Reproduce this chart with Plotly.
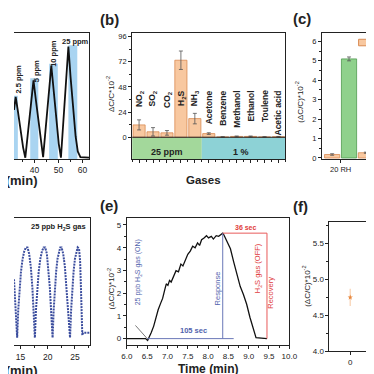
import plotly.graph_objects as go

W = H = 374
FONT = "Liberation Sans, Arial, sans-serif"

# ---------------- data ----------------
# (a) response vs time (arbitrary units, y axis cropped)
a_time = [31.5, 32.2, 33.1, 34.2, 35.3, 36.2, 39.6, 40.7, 41.9, 43.0, 43.6,
          47.0, 48.0, 49.0, 50.1, 51.0, 54.1, 55.0, 56.1, 57.1, 58.0, 59.1, 62.7]
a_resp = [38.8, 49.2, 38, 22, 9, 1, 62.2, 45, 25, 10, 1.5,
          74, 55, 32, 12, 1, 89, 65, 38, 18, 6, 1.5, 1]
a_gas_on = [31.5, 38.25, 46.1, 54.1]
a_gas_off = [33.1, 41.6, 49.7, 57.8]
a_gas_top = [50, 64, 75.3, 90]
a_conc = ["2.5 ppm", "5 ppm", "10 ppm", "25 ppm"]

# (b) selectivity
gases = ["NO<sub>2</sub>", "SO<sub>2</sub>", "CO<sub>2</sub>", "H<sub>2</sub>S", "NH<sub>3</sub>",
         "Acetone", "Benzene", "Methanol", "Ethanol", "Toulene", "Acetic acid"]
b_resp = [11.8, 5.2, 4.2, 73.5, 17.8, 3.5, 0.3, 0.8, 0.8, 0.3, 0.5]
b_err = [4.8, 4.0, 2.2, 8.8, 5.0, 0.8, 0.2, 0.4, 0.4, 0.2, 0.3]
b_groups = ["25 ppm", "1 %"]

# (c) humidity
rh = ["20 RH", "40 RH"]
c_orange = [0.18, 0.27]
c_orange_err = [0.04, 0.03]
c_green = [5.1, None]
c_green_err = [0.1, 0]

# (d) 25 ppb cycles (arbitrary units)
d_time = [13.82, 14.0, 14.2, 14.4, 14.6, 14.8, 15.1, 15.4, 15.7, 16.0, 16.3, 16.6, 16.9, 17.2, 17.45,
          17.65, 17.85, 18.05, 18.35, 18.65, 18.95, 19.25, 19.55, 19.85, 20.1, 20.4, 20.65,
          20.9, 21.1, 21.3, 21.55, 21.8, 22.05, 22.3, 22.55, 22.85, 23.15, 23.45, 23.8,
          24.1, 24.3, 24.5, 24.75, 25.0, 25.25, 25.5, 25.75, 25.95, 26.1, 26.25, 26.35, 26.5, 27.77]
d_resp = [52, 36, 20, 6, 28, 44, 58, 68, 74, 77, 77, 72, 62, 45, 25,
          6, 28, 44, 58, 68, 74, 77, 77, 72, 62, 45, 25,
          6, 28, 44, 58, 68, 74, 77, 77, 72, 62, 45, 25,
          6, 28, 44, 58, 68, 74, 77, 76, 66, 45, 20, 8, 10, 10]

# (e) single response / recovery
e_time = [6.0, 6.46, 6.51, 6.55, 6.6, 6.66, 6.71, 6.77, 6.83, 6.88, 6.93, 6.97, 7.01, 7.05, 7.09,
          7.15, 7.21, 7.27, 7.33, 7.38, 7.45, 7.50, 7.56, 7.62, 7.68, 7.74, 7.79, 7.84, 7.9,
          7.96, 8.01, 8.08, 8.13, 8.2, 8.26, 8.32, 8.36, 8.39, 8.47, 8.55, 8.63, 8.71, 8.79,
          8.87, 8.95, 9.03, 9.10, 9.18, 9.45]
e_resp = [0.0, 0.0, -0.08, 0.05, 0.27, 0.55, 0.91, 1.27, 1.55, 1.77, 2.13, 2.41, 2.34, 2.56, 2.49,
          2.77, 2.99, 2.94, 3.28, 3.2, 3.49, 3.71, 3.85, 4.07, 4.0, 4.21, 4.1, 4.35, 4.43,
          4.53, 4.43, 4.5, 4.38, 4.53, 4.5, 4.61, 4.64, 4.56, 4.24, 3.95, 3.38, 2.87, 2.30,
          1.94, 1.51, 0.94, 0.50, 0.04, 0.0]
e_gas_on_time = 6.5
e_peak_time = 8.36
e_peak_val = 4.64
e_recovery_end = 9.45
e_base_line_end = 8.63

# (f)
f_x = [0]
f_y = [4.75]
f_err = [0.12]

# ---------------- helpers ----------------
def X(p):
    return p / W

def Y(p):
    return 1 - p / H

ORANGE_FILL = "#f8c8a0"
ORANGE_EDGE = "#d98a52"
GREEN_FILL = "#8fd18c"
GREEN_EDGE = "#4f9a4f"
BLUE_TXT = "#5263ad"
RED_TXT = "#e03c3c"
AX = "#222222"

fig = go.Figure()

# ---- (a)
fig.add_trace(go.Scatter(x=a_time, y=a_resp, mode="lines", line=dict(color="#111111", width=1.8),
                         xaxis="x", yaxis="y", showlegend=False))
# ---- (b)
fig.add_trace(go.Bar(x=list(range(len(gases))), y=b_resp, width=0.87,
                     marker=dict(color=ORANGE_FILL, line=dict(color=ORANGE_EDGE, width=0.8)),
                     error_y=dict(type="data", array=b_err, color="#555555", thickness=0.8, width=2),
                     xaxis="x2", yaxis="y2", showlegend=False))
# ---- (c)
fig.add_trace(go.Bar(x=[0, 1], y=c_orange,
                     marker=dict(color=ORANGE_FILL, line=dict(color=ORANGE_EDGE, width=0.8)),
                     error_y=dict(type="data", array=c_orange_err, color="#555555", thickness=0.8, width=2),
                     xaxis="x3", yaxis="y3", showlegend=False))
fig.add_trace(go.Bar(x=[0, 1], y=c_green,
                     marker=dict(color=GREEN_FILL, line=dict(color=GREEN_EDGE, width=0.8)),
                     error_y=dict(type="data", array=c_green_err, color="#555555", thickness=0.8, width=2),
                     xaxis="x3", yaxis="y3", showlegend=False))
# ---- (d)
fig.add_trace(go.Scatter(x=d_time, y=d_resp, mode="lines",
                         line=dict(color="#3b4d9e", width=2, dash="2px,1px"),
                         xaxis="x4", yaxis="y4", showlegend=False))
# ---- (e)
fig.add_trace(go.Scatter(x=e_time, y=e_resp, mode="lines", line=dict(color="#111111", width=1.3),
                         xaxis="x5", yaxis="y5", showlegend=False))
# ---- (f)
fig.add_trace(go.Scatter(x=f_x, y=f_y, mode="markers",
                         marker=dict(color="#e8873c", size=4, symbol="star"),
                         error_y=dict(type="data", array=f_err, color="#f9d9bf", thickness=1.5, width=0),
                         xaxis="x6", yaxis="y6", showlegend=False))

tickfont = dict(family=FONT, size=8, color=AX)
base = dict(showline=True, linecolor=AX, linewidth=1, ticks="outside", ticklen=3, tickwidth=1,
            tickcolor=AX, tickfont=tickfont, showgrid=False, zeroline=False, fixedrange=True)

layout = dict(
    width=W, height=H, margin=dict(l=0, r=0, t=0, b=0), autosize=False,
    paper_bgcolor="white", plot_bgcolor="white", barmode="group", bargap=0.0, bargroupgap=0.1,
    font=dict(family=FONT, color=AX),
)

# (a)
layout["xaxis"] = dict(base, domain=[0, X(78)], range=[31.5, 62.7], tickvals=[40, 50, 60], mirror=True,
                       anchor="y", tickfont=dict(family=FONT, size=8.5, color=AX),
                       minor=dict(ticks="outside", ticklen=2, tickvals=[35, 45, 55]))
layout["yaxis"] = dict(base, domain=[Y(153), Y(25)], range=[0, 100], side="right", ticks="",
                       showticklabels=False, mirror=False, anchor="x")
# (b)
layout["xaxis2"] = dict(base, domain=[X(122.7), X(282)], range=[-0.5, 10.5], tickvals=list(range(11)),
                        showticklabels=False, mirror=True, anchor="y2",
                        minor=dict(ticks="outside", ticklen=2, tickvals=[i + 0.5 for i in range(-1, 11)]))
layout["yaxis2"] = dict(base, domain=[Y(153), Y(25)], range=[-20.7, 99.8], tickvals=[0, 24, 48, 72, 96],
                        tickfont=dict(family=FONT, size=7.5, color=AX), mirror=True, anchor="x2",
                        minor=dict(ticks="outside", ticklen=2, tickvals=[12, 36, 60, 84]))
# (c)
layout["xaxis3"] = dict(base, domain=[X(320), 1], range=[-0.55, 0.99], tickvals=[0, 1], ticktext=rh,
                        mirror=True, anchor="y3", tickfont=dict(family=FONT, size=7.5, color=AX))
layout["yaxis3"] = dict(base, domain=[Y(153), Y(25)], range=[-0.05, 6.45], dtick=1, mirror=False,
                        anchor="x3", tickfont=dict(family=FONT, size=7.5, color=AX),
                        minor=dict(ticks="outside", ticklen=2, dtick=0.5))
# (d)
layout["xaxis4"] = dict(base, domain=[0, X(79)], range=[13.82, 27.77], tickvals=[15, 20, 25], mirror=True,
                        anchor="y4", tickfont=dict(family=FONT, size=8.5, color=AX),
                        minor=dict(ticks="outside", ticklen=2, dtick=2.5))
layout["yaxis4"] = dict(base, domain=[Y(342), Y(213)], range=[0, 100], side="right", ticks="",
                        showticklabels=False, mirror=False, anchor="x4")
# (e)
layout["xaxis5"] = dict(base, domain=[X(117.3), X(286)], range=[6, 10], dtick=0.5, tickformat=".1f",
                        mirror=True, anchor="y5", minor=dict(ticks="outside", ticklen=2, dtick=0.25))
layout["yaxis5"] = dict(base, domain=[Y(342), Y(213)], range=[-0.3, 5.3], dtick=1, mirror=True,
                        anchor="x5", minor=dict(ticks="outside", ticklen=2, dtick=0.5))
# (f)
layout["xaxis6"] = dict(base, domain=[X(327.7), 1], range=[-0.5, 0.57], tickvals=[0], mirror=True,
                        anchor="y6")
layout["yaxis6"] = dict(base, domain=[Y(348), Y(216.7)], range=[4.0, 5.8],
                        tickvals=[4.0, 4.5, 5.0, 5.5], tickformat=".1f", mirror=False, anchor="x6",
                        minor=dict(ticks="outside", ticklen=2, dtick=0.25))

shapes = []
# (a) gas exposure windows
for on, off, top in zip(a_gas_on, a_gas_off, a_gas_top):
    shapes.append(dict(type="rect", xref="x", yref="y", x0=on, x1=off, y0=0, y1=top,
                       fillcolor="#a9d4f1", line=dict(width=0), layer="below"))
# (b) concentration bands + zero line
shapes.append(dict(type="rect", xref="x2", yref="y2", x0=-0.5, x1=4.5, y0=-20.7, y1=0,
                   fillcolor="#a3d89b", line=dict(width=0), layer="below"))
shapes.append(dict(type="rect", xref="x2", yref="y2", x0=4.5, x1=10.5, y0=-20.7, y1=0,
                   fillcolor="#8dd2d6", line=dict(width=0), layer="below"))
shapes.append(dict(type="line", xref="x2", yref="y2", x0=-0.5, x1=10.5, y0=0, y1=0,
                   line=dict(color=AX, width=1.2)))
# (c) legend swatch
shapes.append(dict(type="rect", xref="paper", yref="paper", x0=X(358), x1=X(376), y0=Y(38.3), y1=Y(31.7),
                   fillcolor=ORANGE_FILL, line=dict(color=ORANGE_EDGE, width=1)))
# (e) guide lines
shapes += [
    dict(type="line", xref="x5", yref="y5", x0=e_gas_on_time, x1=e_base_line_end, y0=0, y1=0,
         line=dict(color="#6a78b8", width=1)),
    dict(type="line", xref="x5", yref="y5", x0=6.21, x1=e_gas_on_time, y0=0.58, y1=0,
         line=dict(color="#555555", width=0.8)),
    dict(type="line", xref="x5", yref="y5", x0=e_peak_time, x1=e_peak_time, y0=0, y1=e_peak_val,
         line=dict(color="#6a78b8", width=1)),
    dict(type="line", xref="x5", yref="y5", x0=e_peak_time, x1=e_recovery_end, y0=e_peak_val, y1=e_peak_val,
         line=dict(color="#e85a5a", width=1)),
    dict(type="line", xref="x5", yref="y5", x0=e_recovery_end, x1=e_recovery_end, y0=e_peak_val, y1=0,
         line=dict(color="#e85a5a", width=1)),
]
layout["shapes"] = shapes

ann = []

def A(text, x, y, size=8, bold=False, color=AX, angle=0, xanchor="center", yanchor="middle",
      xref="paper", yref="paper"):
    if xref == "paper":
        x = X(x)
    if yref == "paper":
        y = Y(y)
    t = "<b>%s</b>" % text if bold else text
    ann.append(dict(text=t, x=x, y=y, xref=xref, yref=yref, showarrow=False, textangle=angle,
                    xanchor=xanchor, yanchor=yanchor,
                    font=dict(family=FONT, size=size, color=color)))

# panel letters
A("(b)", 99, 12, size=15, bold=True)
A("(c)", 299, 11, size=15, bold=True)
A("(e)", 99, 200, size=15, bold=True)
A("(f)", 298, 201, size=15, bold=True)

# (a)
a_label_pos = [(33.5, 63.5, -90), (40.7, 69.5, -90), (47.9, 83.6, -90), (56.95, 93, 0)]
for lab, (lx, ly, ang) in zip(a_conc, a_label_pos):
    A(lab, lx, ly, size=7.5, bold=True, angle=ang, xref="x", yref="y")
A("Time (min)", 27, 175, size=13, bold=True, xanchor="right")

# (b)
A("ΔC/C*10<sup>-2</sup>", 100, 87, size=8, angle=-90)
for i, g in enumerate(gases):
    A(g, i, 46.5, size=8.5, bold=True, angle=-90, yanchor="top", xref="x2", yref="y2")
A(b_groups[0], 2.0, -13.8, size=9, bold=True, xref="x2", yref="y2")
A(b_groups[1], 7.3, -13.8, size=9, bold=True, xref="x2", yref="y2")
A("Gases", 197, 174, size=11.5, bold=True)

# (c)
A("(ΔC/C)*10<sup>-2</sup>", 296, 95, size=8, angle=-90)
A("Humidity (%)", 365, 178, size=11.5, bold=True, xanchor="left")

# (d)
A("25 ppb H<sub>2</sub>S gas", 77, 222, size=7.5, bold=True, xanchor="right")
A("Time (min)", 27, 367, size=13, bold=True, xanchor="right")

# (e)
A("(ΔC/C)*10<sup>-2</sup>", 101, 285, size=8, angle=-90)
A("Time (min)", 202, 366, size=12, bold=True)
A("25 ppb H<sub>2</sub>S gas (ON)", 6.28, 2.93, size=7, color=BLUE_TXT, angle=-90, xref="x5", yref="y5")
A("105 sec", 7.65, 0.05, size=7.5, bold=True, color=BLUE_TXT, yanchor="bottom", xref="x5", yref="y5")
A("Response", 8.24, 2.2, size=7.5, color=BLUE_TXT, angle=-90, xref="x5", yref="y5")
A("36 sec", 8.93, e_peak_val + 0.02, size=7, bold=True, color=RED_TXT, yanchor="bottom", xref="x5", yref="y5")
A("H<sub>2</sub>S gas (OFF)", 9.22, 3.08, size=7.5, color=RED_TXT, angle=-90, xref="x5", yref="y5")
A("Recovery", 9.54, 2.0, size=7.5, color=RED_TXT, angle=-90, xref="x5", yref="y5")

# (f)
A("(ΔC/C)*10<sup>-2</sup>", 304, 282, size=8, angle=-90)
A("Time (day)", 366, 378, size=11.5, bold=True, xanchor="left")

layout["annotations"] = ann
fig.update_layout(**layout)
fig.write_html("out.html", config={"displayModeBar": False, "staticPlot": True})
